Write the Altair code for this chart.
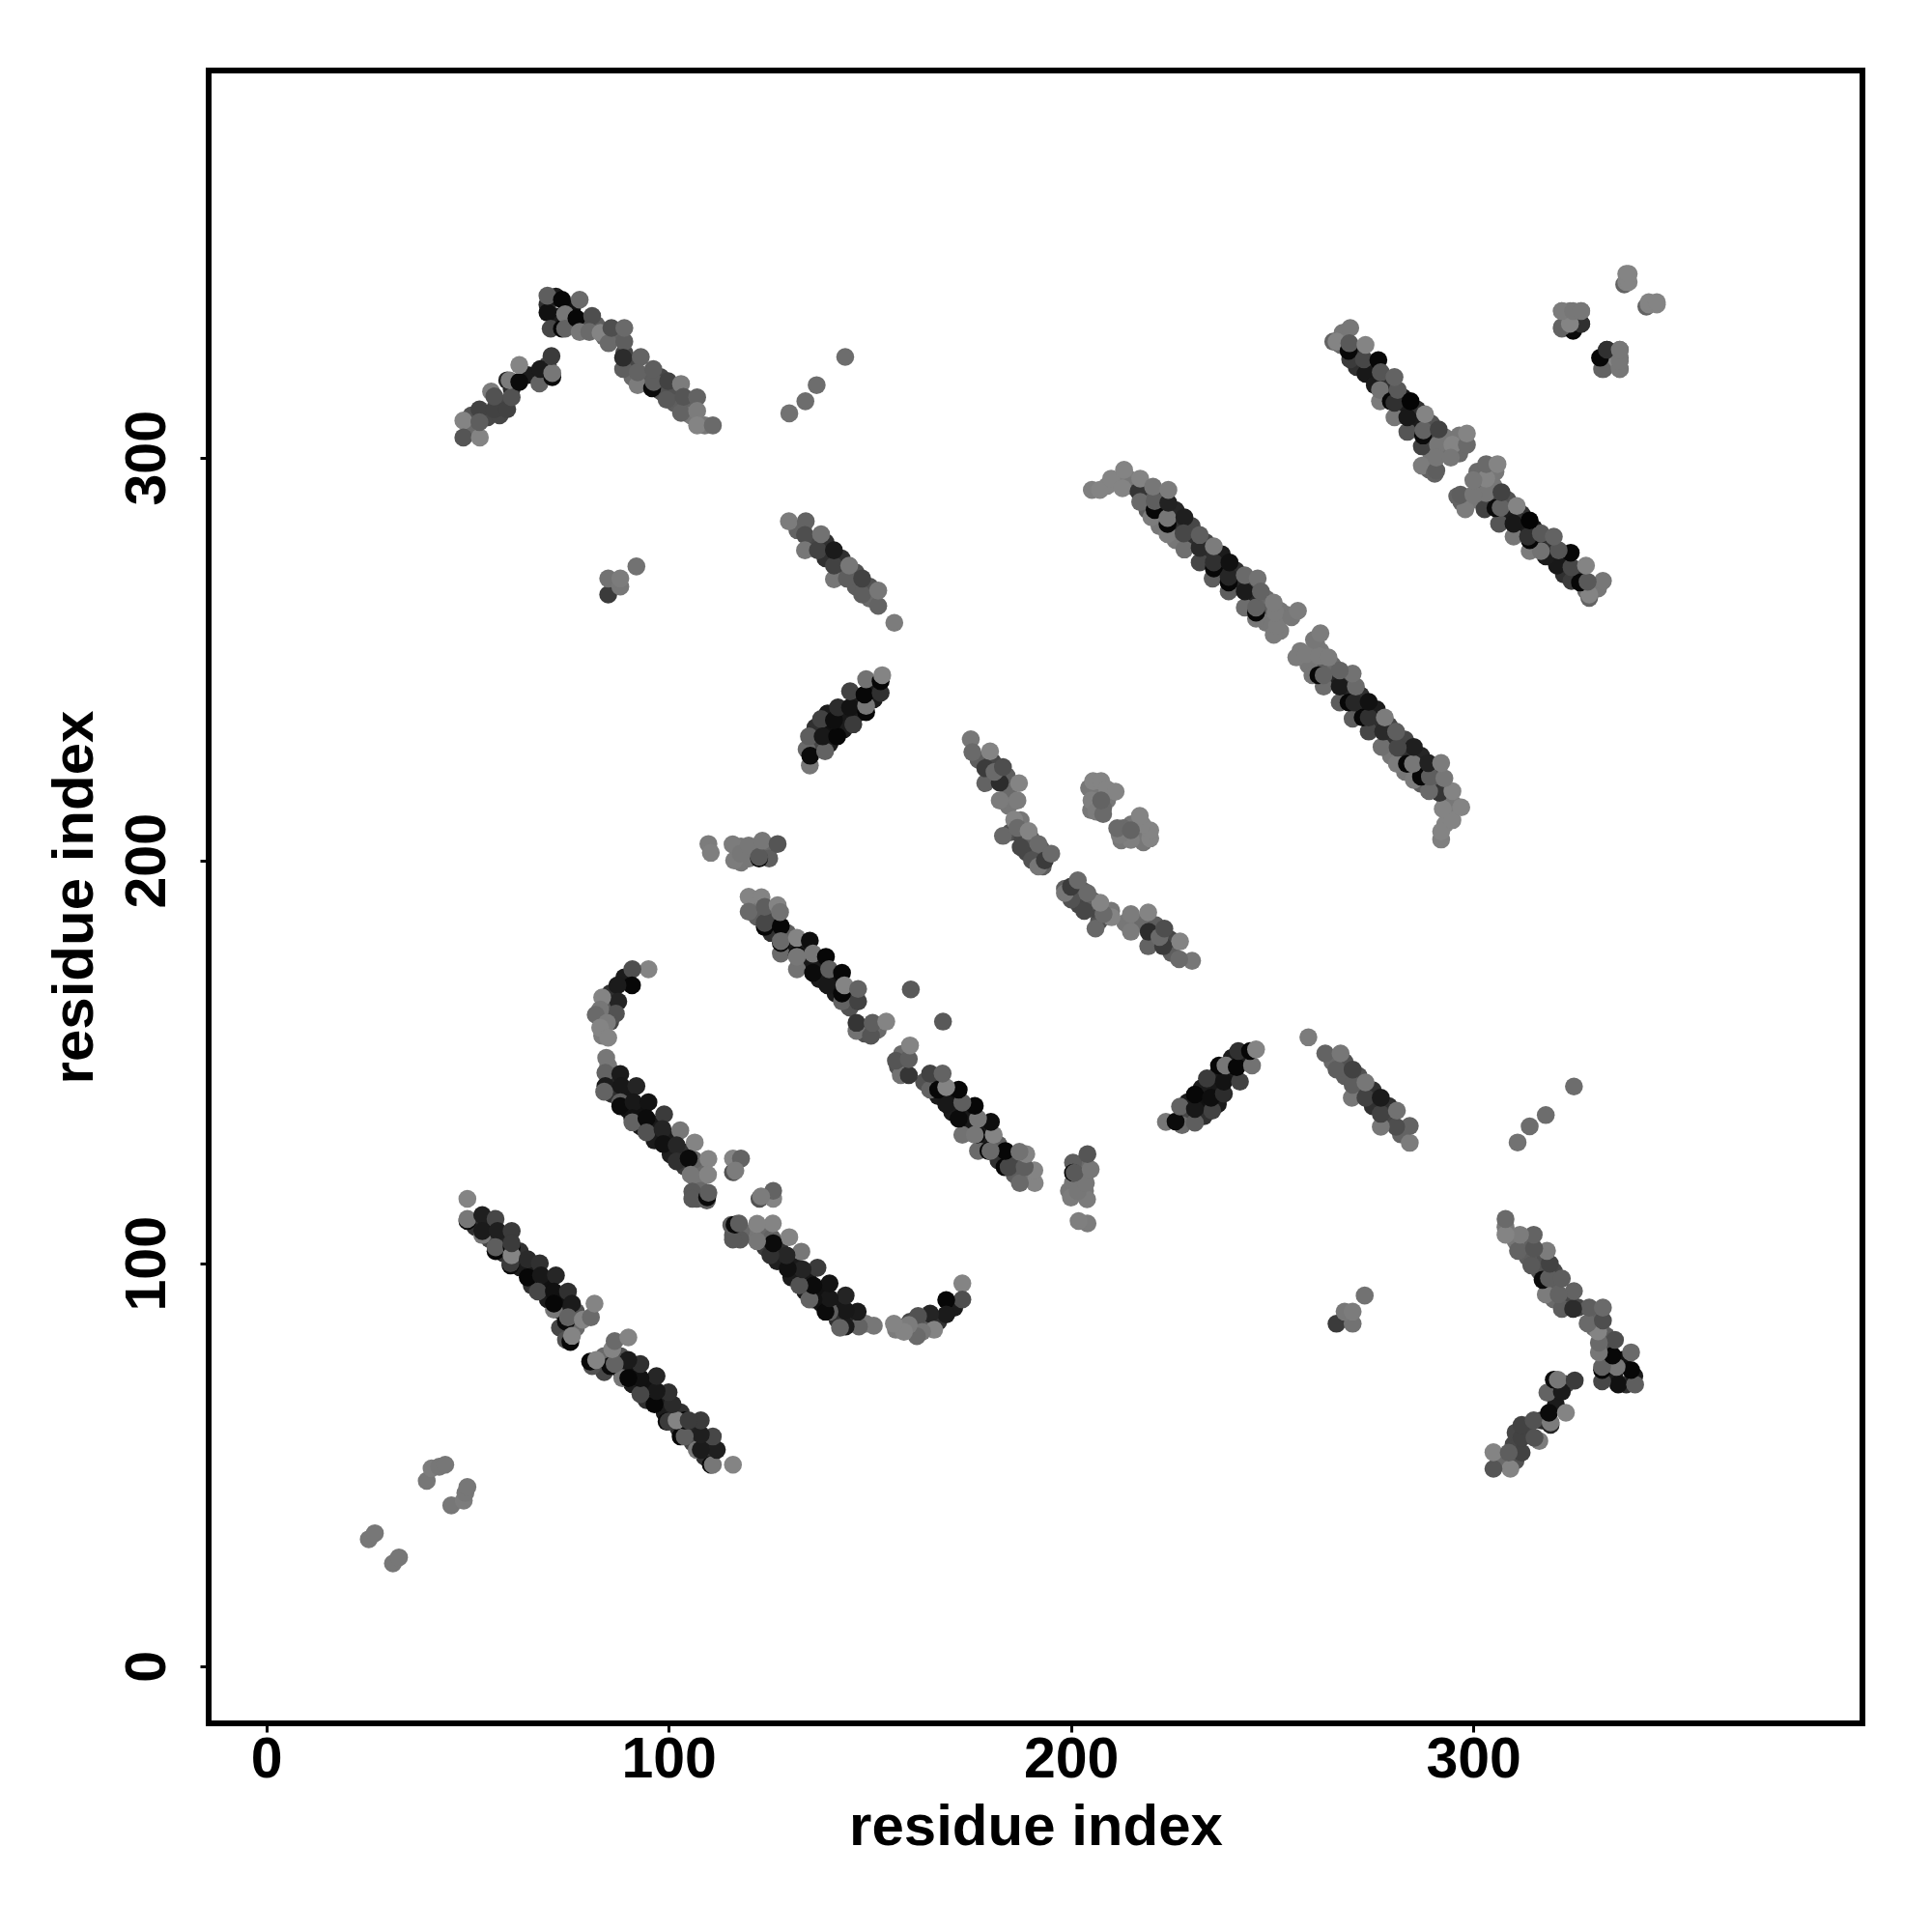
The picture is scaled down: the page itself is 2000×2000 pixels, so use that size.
import altair as alt
import pandas as pd

# residue pairs (i, j, grey level 0=black .. 0.55=lightest); the map is symmetric, upper half listed
under_a = [(52,109,.2),(55,110,.1),(55.5,106,.3),(59,106,.15),(59,102.5,.2),(63,103,.2),(63,99,.1),(66.5,99,.1),(66,94.5,.2),
           (70,95,.05),(70,91,.1),(73.5,91,.05),(73.5,88,.1),(77,88,.35),(73,84,.3),(77,84,.45)]
under_b = [(85.5,160,.3),(86,145.5,.15),(86,142,.2),(90,142,.08),(90,138,.08),(93.5,138,.05),(93,134,.1),(96.5,134.5,.08),
           (96.5,130.5,.1),(100.5,131,.1),(100.5,127,.12),(104,127.5,.2),(104,124,.25),(108,124,.45),(107.5,120,.5),(108,118,.45),
           (89,171,.1),(85.5,167,.2),(84.5,164,.4),(84.5,161,.45),(83.5,156.5,.52),(107,116,.38),(85,149,.5)]
under_c = [(121.5,189,.5),(122,186,.4),(125.5,186.5,.3),(125.5,182,.2),(129.5,182,.4),(129.5,178,.1),(133.5,178.5,.1),(133.5,174.5,.08),
           (137.5,174.5,.08),(137.5,170.5,.1),(141.5,170.5,.05),(141.5,167,.1),(145.5,167,.2),(145,163.5,.35),(148.8,157,.35),(152,158,.45)]
under_d = [(177,225,.4),(180.5,224.5,.3),(180,220.5,.3),(184,221,.4),(184.5,217,.45),(184.5,213.5,.5),(185,207,.35),(188,205.5,.3),
           (189,202,.3),(192,202,.3),(193,198.5,.4),(187.5,210,.5),(190,205.5,.4),(192.5,203,.4)]
under_e = [(207,217,.5),(209,215,.5),(206.5,216.5,.5),(204.5,218,.5),(205,212.5,.5),(208,213,.45)]
under_f = [(209,293,.55),(214,295,.52),(215,293,.5),(219,291,.4),(219,287,.4),(222,290,.3),(222,286.5,.3),(226,287,.15),(226,283,.2),
           (230,283,.3),(230,279,.2),(233.5,279,.3),(233.5,276,.2),(237.5,276,.1),(237.5,272,.15),(241,272,.2),(241,268.5,.15),(245,268.5,.3),
           (245,264.5,.15),(248.5,265,.45),(248.5,261.5,.4),(248.5,259,.5),(252,262,.5),(252,257,.52),(253.5,261,.5),(226,279.5,.5),(222,283,.5)]
under_g = [(267,328,.45),(267.5,331,.5),(271,326.5,.2),(271,322.5,.2),(275,322.5,.1),(275,320,.2),(278.5,319,.2),(278.5,315.5,.1),
           (282.5,315,.1),(282,312,.1),(286,312,.2),(285.5,308.5,.1),(289.5,308.5,.35),(289.5,305,.3),(289.5,301,.5),(293,305,.5),
           (293,301.5,.45),(296.5,301,.45),(296.5,304.5,.5),(289,297,.42),(296.5,305.5,.5)]
under_i = [(51,307,.45),(51,310.5,.35),(55,310,.3),(58,313.5,.3),(58,310.5,.3),(61,317,.2),(65,320.5,.1),(70,323,.3),(69.9,338,.2),
           (72,335,.1),(72,340,.1),(76,337,.05),(76,333,.3),(79.5,333,.35),(82,333,.4),(84,330,.45),(87,330,.42),(89,326,.3),(91,324,.3),
           (91,320,.45),(94.5,320,.4),(98,320,.3),(98,316.5,.35),(101.5,317,.35),(101.5,313.5,.4),(105.5,313,.42),(105.5,310.5,.5),(109,308,.5)]
under_l = [(132,282,.42),(135.5,279,.3),(139,279,.2),(139,275,.2),(143,275,.2),(143,271.5,.3),(146.5,271.5,.35),(146.5,268,.4),(150,268,.35),(150,265,.45)]
under_m = [(136.5,229,.3),(136.5,233,.2),(140,232.5,.05),(140,229,.1),(143.5,236,.08),(143.5,232.5,.1),(147,236.5,.1),(147,240,.1),(151,240,.1),(151,243,.1),(139.5,236.5,.1)]
under_q = [(118,203.5,.5),(118,199.5,.5),(122,203.5,.45),(125,203,.45),(125,200.5,.4),(120,200.5,.5)]

band_a = [(50,110.5,.03),(50,111,.5),(50,116,.55),(53.7,107,.5),(53.7,112,.12),(57,111,.3),(53.7,108,.1),(57.5,108,.12),
          (57,103,.02),(57,104,.4),(60.7,99.5,.03),(60.7,100,.25),(61,104,.02),(61,102,.55),(61,108,.25),(61,105,.25),
          (65,101,.17),(68,100,.2),(65,96.5,.02),(68.3,97,.08),(67.5,93,.3),(72,97,.15),
          (71.5,88.5,.5),(71.5,93,.05),(75,93,.2),(71.5,90,.02),(76,90,.1),(74.5,85.5,.03),(75,86.6,.42),(78.7,86,.55),
          (80.7,86.6,.45),(81.6,90,.55),(74.5,81,.35),(75.6,80.5,.02),(76,82,.55)]
band_b = [(95,173,.55),(91,173,.33),(90.9,169,.02),(87.3,169,.1),(87.5,165,.14),(83.5,166,.55),(86.9,162,.35),(83,163,.5),
          (81.9,161.7,.45),(84.7,159.7,.52),(83,158.5,.55),(85,156,.55),(84.5,151,.5),(84.3,147.3,.42),(84.3,144,.1),(84,142.6,.42),
          (88,147,.1),(88.3,144,.08),(92,144,.14),(88,140,.4),(88,139,.03),(91.3,140,.08),(95,140,.06),(91,136,.05),(91,135,.42),
          (94.5,136,.03),(98.9,137,.25),(94.5,132.5,.35),(98.5,133.3,.14),(98.7,129.6,.05),(102.9,133,.5),(102,129.3,.15),
          (106.5,130,.55),(102,125.3,.2),(106.3,125.7,.42),(105,126,.03),(109.9,125.9,.55),(105.5,122,.5),(109.8,122,.55),
          (105.9,117.8,.38),(105.9,116,.38),(109.5,115.6,.4),(109.6,116.4,.03),(109.9,117.5,.4),
          (116,122.6,.35),(116,126,.55),(118,126,.42),(116.6,123,.52)]
band_c = [(119.9,191,.55),(119.9,187.3,.45),(123.1,190.9,.55),(123.9,183.5,.02),(123.9,184.5,.3),(123.9,188.5,.4),(127.1,188.9,.55),
          (127.9,183.7,.02),(127.7,187.2,.48),(127.9,176.9,.45),(127.9,179.5,.02),(127.9,180,.45),(131.9,173,.48),(131.9,176.5,.02),
          (131.9,176.1,.5),(131.9,180.8,.55),(135.1,180.1,.04),(135.9,172.1,.03),(135.9,176.9,.5),(139.5,169,.08),(139.1,176.1,.02),
          (139.9,173,.4),(143.1,165,.42),(143.1,167,.02),(143.1,172.1,.02),(143.7,169,.55),(147.1,165,.28),(147.1,168.1,.42),
          (146.7,157.7,.48),(146.7,159.7,.22),(150.3,156.5,.36),(150.7,159.7,.4),(154.1,160,.55)]
band_d = [(175.1,230.1,.5),(175.5,226.9,.45),(179.9,227.1,.55),(178.7,219.2,.42),(178.7,222.9,.25),(182.3,219.3,.18),(182.3,214.9,.52),
          (181,222,.45),(183.1,223.2,.33),(186.7,214.9,.52),(187.1,219.2,.55),(183.1,206.1,.44),(185.9,210.1,.55),(186.7,208.1,.45),
          (187.5,203.3,.3),(189.5,207.3,.55),(190.3,200.1,.35),(191.9,198.5,.5),(191.9,204.1,.45),(193.5,200,.25),(195.1,201.7,.45)]
band_e = [(205.5,219.7,.55),(207.5,219.7,.55),(209,217.7,.55),(211.1,217.1,.55),(205.1,214.9,.53),(206.3,212.1,.52),(208,211.5,.45),(207.5,214.9,.42)]
band_f = [(205.2,292,.53),(207.2,292,.55),(210,294.8,.55),(213.2,297,.55),(212.8,292.4,.55),(216.8,291.6,.22),(217.2,289,.45),(217.2,294.8,.55),
          (220,285.2,.52),(220.8,287,.02),(220.8,289.2,.4),(220.4,292.8,.5),(224,281,.52),(224,283.5,.02),(224,285,.5),(224.2,288.8,.13),(224.2,292,.52),
          (228.2,285.2,.12),(228.2,277.2,.47),(228,281.2,.3),(232,274,.3),(232,277.6,.17),(232,280.8,.4),(235.2,270,.4),(235.5,272.5,.02),(235.5,274,.2),(235.5,278,.52),
          (239.2,266.8,.4),(239.2,269,.02),(239.2,270.4,.15),(239.4,274,.05),(243.2,262.8,.46),(243.2,266.8,.1),(243.2,270.8,.45),(246,260,.5),(246,261.5,.02),(246,262.8,.42),
          (246.4,270,.48),(247.2,266.8,.42),(250.4,256,.52),(251.2,258.4,.52),(250.8,261.6,.52),(250.4,264,.52),(254.8,260.4,.5),(256.4,262,.52)]
band_g = [(265.2,328.8,.42),(266,328.8,.55),(269.4,332.2,.5),(269.4,324.4,.25),(269,326.5,.02),(269.2,328.4,.38),(273.2,320.8,.08),(272.8,324.4,.3),(273.2,328,.55),
          (276.4,324.2,.02),(276.8,314,.52),(275.5,318,.1),(276.8,316.8,.48),(277,321.2,.36),(280.4,310,.5),(279.5,314,.02),(280.4,313.6,.2),(281.2,316.8,.38),(280.4,320,.42),
          (283.6,306.4,.36),(283.6,310,.08),(284.4,314,.01),(287.2,302.8,.28),(287.5,305.5,.03),(287.6,306.8,.42),(288,310.8,.55),(287.2,298,.52),
          (291.2,303.2,.5),(290.4,296,.42),(290.8,296.8,.4),(290.8,300,.5),(291.4,307,.28),(294.8,303.2,.55),(294.4,300,.5),(298.4,303.2,.45),(298.4,306,.55)]
band_h = [(322,332,.42),(324.8,331.5,.02),(326.8,333.2,.2),(322,336.4,.5),(324,336.4,.5),(326.8,336.4,.5),
          (332,324.8,.03),(332.4,322,.42),(333.2,326.8,.2),(333.2,324,.55),(336.4,322,.52),(336.4,324.8,.5),(336.4,326.8,.5),
          (337.5,343,.42),(338,343.6,.55),(338,345.6,.55),(338.6,343.6,.55),(338.6,345.6,.55)]
band_i = [(49,309.2,.55),(49,305,.36),(53.1,305,.55),(53,312,.28),(53,308.8,.4),(56.7,312,.28),(55.9,316.4,.52),(56.7,315.2,.35),(59.9,312,.28),(61,315,.35),
          (59.9,319.2,.15),(60.5,319.2,.52),(62.9,318.8,.03),(62.9,323,.55),(67.9,318.4,.42),(68.1,322,.1),(71.1,320,.03),(71.1,321,.5),(70.9,325.2,.25),
          (69.9,336,.05),(69.9,340.2,.4),(70.7,332,.3),(73.5,332,.02),(73.5,339.2,.02),(74.3,335.6,.5),(74.3,332,.42),(77.1,334.6,.02),(77.9,339.2,.45),
          (77.9,331.2,.5),(81,335.2,.33),(80.3,331.2,.45),(83.1,331,.55),(85.1,328.4,.45),(85.8,332.2,.33),(89,328.8,.4),(89,332.2,.45),(88.7,322,.4),(88.7,324.8,.18),
          (93.1,325,.42),(92.3,318,.52),(92.3,321.2,.42),(95.9,317.2,.03),(96.3,318.8,.4),(96.2,322,.4),(99.5,314.4,.38),(99.9,319,.28),(103.1,311.1,.42),(103.1,318.3,.52),
          (103.7,315.1,.36),(107.1,315,.42),(107.1,311.6,.52),(107.1,308,.55),(111,308,.45)]
band_j = [(85,266,.25),(85,270,.48),(88,268,.5),(88,270,.52),(92,273,.48)]
band_k = [(130,311,.48),(134,314,.46),(136.8,318,.46),(143.9,325,.46)]
band_l = [(129.9,284.2,.52),(134.1,284.2,.42),(133.9,280.8,.33),(133.9,277,.5),(137.1,277,.28),(137.9,281,.48),(141.1,269.8,.5),(141.1,273.2,.28),(141.1,277,.1),
          (144.3,270,.4),(144.9,273.2,.5),(148.1,266,.4),(148.1,270,.28),(152.1,263.2,.42),(152.1,267,.5),(156.1,259,.52)]
band_m = [(135.1,223.6,.5),(134.3,227.6,.45),(135.2,226,.03),(134.9,230.8,.4),(138.9,227.1,.42),(137.9,235.1,.28),(138.3,230.8,.08),(141.9,230.8,.02),(141.1,234.8,.04),
          (145.9,233.8,.25),(142.1,238,.18),(145.1,238,.06),(149.1,236.8,.02),(149.1,238.4,.5),(145.1,242,.28),(148.7,241.2,.02),(149.1,245,.48),(152.7,241.6,.2),(152.7,244.5,.02),(153.1,246,.55)]
band_n = [(25.5,31.5,.5),(27,33,.5),(39.9,46,.5),(41.1,49.1,.52),(43,49.5,.5),(44.5,50,.5)]
row_q = [(109.9,204.1,.52),(110.5,201.9,.53),(115.9,204,.52),(116.3,200,.52),(117.9,201.7,.5),(119.9,203.7,.5),(122.5,200.5,.02),(122.5,200.9,.38),(123.3,204.9,.5),(127.1,204.1,.36)]
isolated = [(160.2,168,.38),(168.2,160,.38)]

upper = (under_a + under_b + under_c + under_d + under_e + under_f + under_g + under_i + under_l + under_m + under_q
         + band_a + band_b + band_c + band_d + band_e + band_f + band_g + band_h + band_i
         + band_j + band_k + band_l + band_m + band_n + row_q)

rows = [{"i": a, "j": b, "shade": g} for a, b, g in upper]
rows += [{"i": b, "j": a, "shade": g} for a, b, g in upper]
rows += [{"i": a, "j": b, "shade": g} for a, b, g in isolated]
df = pd.DataFrame(rows)

tick_values = [0, 100, 200, 300]
FONT = "Liberation Sans"

chart = (
    alt.Chart(df)
    .mark_circle(size=345, opacity=1)
    .encode(
        x=alt.X("i:Q", scale=alt.Scale(domain=[-14.3, 396.7], nice=False, zero=False),
                axis=alt.Axis(values=tick_values, title="residue index", grid=False, domain=False,
                              tickColor="black", tickWidth=3, tickSize=9, labelPadding=-1,
                              labelFontSize=59, labelFont=FONT, labelFontWeight="bold", labelColor="black",
                              titleFontSize=60, titleFont=FONT, titleFontWeight="bold", titleColor="black",
                              titlePadding=11)),
        y=alt.Y("j:Q", scale=alt.Scale(domain=[-14.2, 396.1], nice=False, zero=False),
                axis=alt.Axis(values=tick_values, title="residue index", grid=False, domain=False,
                              tickColor="black", tickWidth=3, tickSize=9, labelPadding=25,
                              labelAngle=-90, labelAlign="center", labelBaseline="bottom",
                              labelFontSize=59, labelFont=FONT, labelFontWeight="bold", labelColor="black",
                              titleFontSize=60, titleFont=FONT, titleFontWeight="bold", titleColor="black",
                              titlePadding=15)),
        color=alt.Color("shade:Q", legend=None,
                        scale=alt.Scale(domain=[0, 1], range=["#000000", "#ffffff"])),
    )
    .properties(width=1712, height=1711,
                autosize=alt.AutoSizeParams(type="none"),
                padding={"left": 208, "top": 65, "right": 60, "bottom": 200},
                background="white")
    .configure_view(stroke="black", strokeWidth=6)
)

chart.save("out.html", embed_options={"renderer": "svg", "actions": False})
